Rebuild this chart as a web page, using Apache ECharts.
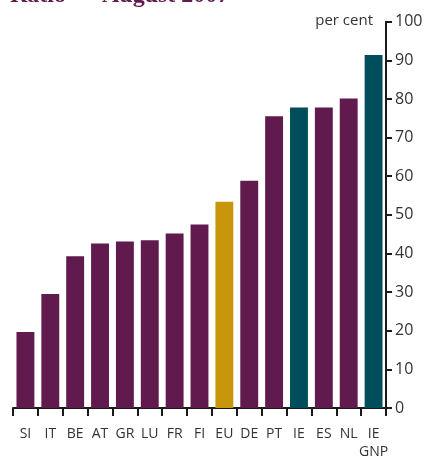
<!DOCTYPE html>
<html>
<head>
<meta charset="utf-8">
<script src="https://cdn.jsdelivr.net/npm/echarts@6/dist/echarts.min.js"></script>
<style>html,body{margin:0;padding:0;background:#fff;overflow:hidden;}#c{width:434px;height:461px;}</style>
</head>
<body>
<div id="c"></div>
<script>
const categories = ['SI','IT','BE','AT','GR','LU','FR','FI','EU','DE','PT','IE','ES','NL','IE\nGNP'];
const values = [19.7, 29.5, 39.3, 42.6, 43.1, 43.4, 45.2, 47.5, 53.4, 58.8, 75.5, 77.8, 77.8, 80.1, 91.4];
const barKinds = ['c','c','c','c','c','c','c','c','eu','c','c','ie','c','c','ie'];
const yTicks = [0,10,20,30,40,50,60,70,80,90,100];
const titleText = 'Ratio \u2014 August 2007';
const unitText = 'per cent';

const colors = {c:'#611A4D', eu:'#C8960A', ie:'#004E5B'};
const chart = echarts.init(document.getElementById('c'));
const font = "'Open Sans', sans-serif";
chart.setOption({
  animation:false,
  grid:{left:13, right:48, top:21.7, bottom:50.3},
  xAxis:{
    type:'category', data:categories, boundaryGap:true,
    axisLine:{lineStyle:{color:'#1a1a1a', width:2}},
    axisTick:{show:true, inside:false, length:8, lineStyle:{color:'#1a1a1a', width:2}, alignWithLabel:false},
    axisLabel:{interval:0, color:'#333', fontSize:14, fontFamily:font, margin:17, lineHeight:18}
  },
  yAxis:{
    type:'value', position:'right', min:0, max:100, interval:10,
    axisLine:{show:true, lineStyle:{color:'#1a1a1a', width:2}},
    axisTick:{show:true, length:6, lineStyle:{color:'#1a1a1a', width:2}},
    splitLine:{show:false},
    axisLabel:{color:'#333', fontSize:16, fontFamily:font, margin:9}
  },
  series:[{
    type:'bar', barCategoryGap:'28%',
    data: values.map((v,i)=>({value:v, itemStyle:{color:colors[barKinds[i]]}}))
  }],
  graphic:[
    {type:'text', left:10, top:-16, style:{text:titleText, font:"bold 24px 'Liberation Serif', serif", fill:'#611A4D'}},
    {type:'text', right:61, top:13, style:{text:unitText, font:"15px 'Open Sans', sans-serif", fill:'#333'}}
  ]
});
</script>
</body>
</html>
